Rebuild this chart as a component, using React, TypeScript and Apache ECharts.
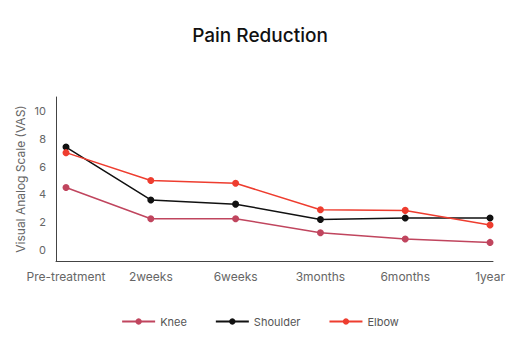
import React, { useEffect, useRef } from "react";
import * as echarts from "echarts";

const categories = ["Pre-treatment", "2weeks", "6weeks", "3months", "6months", "1year"];
const knee = [4.5, 2.25, 2.25, 1.25, 0.8, 0.55];
const shoulder = [7.4, 3.6, 3.3, 2.2, 2.3, 2.3];
const elbow = [7.0, 5.0, 4.8, 2.9, 2.85, 1.8];
const yTicks = [0, 2, 4, 6, 8, 10];

const FONT = "Inter, 'Noto Sans', sans-serif";

export default function App() {
  const ref = useRef<HTMLDivElement>(null);
  useEffect(() => {
    document.body.style.margin = "0";
    if (!ref.current) return;
    const chart = echarts.init(ref.current, undefined, { renderer: "svg" });
    const mk = (name: string, vals: number[], color: string) => ({
      name,
      type: "line",
      data: vals.map((v, i) => [i, v]),
      symbol: "circle",
      symbolSize: 7,
      lineStyle: { color, width: 1.5 },
      itemStyle: { color },
    });
    chart.setOption({
      animation: false,
      textStyle: { fontFamily: FONT },
      title: {
        text: "Pain Reduction",
        left: "center",
        top: 21,
        textStyle: { fontFamily: FONT, fontSize: 19, fontWeight: 500, color: "#111" },
      },
      legend: {
        top: 311,
        left: "center",
        itemWidth: 33,
        itemHeight: 8,
        itemGap: 28,
        textStyle: { fontFamily: FONT, fontSize: 11, color: "#555" },
        data: ["Knee", "Shoulder", "Elbow"],
      },
      grid: { left: 56, top: 97, width: 437, height: 164 },
      xAxis: {
        type: "value",
        min: -0.118,
        max: 5.035,
        splitLine: { show: false },
        axisTick: { show: false },
        axisLine: { show: true, onZero: false, lineStyle: { color: "#444", width: 1 } },
        axisLabel: {
          customValues: [0, 1, 2, 3, 4, 5],
          formatter: (v: number) => categories[Math.round(v)] ?? "",
          color: "#666",
          fontSize: 12,
          margin: 9,
          fontFamily: FONT,
        },
      },
      yAxis: {
        type: "value",
        min: -0.786,
        max: 11,
        name: "Visual Analog Scale (VAS)",
        nameLocation: "middle",
        nameGap: 30,
        nameMoveOverlap: false,
        nameTextStyle: { color: "#666", fontSize: 12, fontFamily: FONT },
        splitLine: { show: false },
        axisTick: { show: false },
        axisLine: { show: true, onZero: false, lineStyle: { color: "#444", width: 1 } },
        axisLabel: {
          customValues: yTicks,
          color: "#666",
          fontSize: 11,
          margin: 10,
          fontFamily: FONT,
        },
      },
      series: [
        mk("Knee", knee, "#c0455e"),
        mk("Shoulder", shoulder, "#111111"),
        mk("Elbow", elbow, "#ee3d2f"),
      ],
    });
    return () => chart.dispose();
  }, []);
  return <div ref={ref} style={{ width: 520, height: 352 }} />;
}
